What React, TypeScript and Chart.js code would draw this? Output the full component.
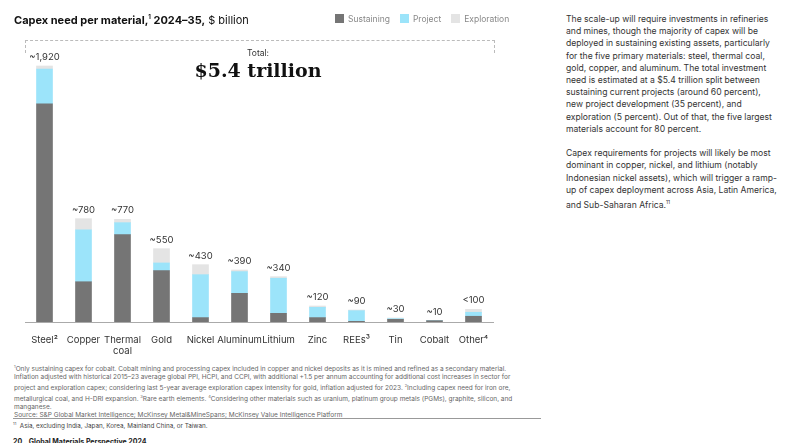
import { useEffect, useRef } from "react";
import { Chart, registerables } from "chart.js";

Chart.register(...registerables);

const categories = ["Steel²", "Copper", ["Thermal", "coal"], "Gold", "Nickel", "Aluminum", "Lithium", "Zinc", "REEs³", "Tin", "Cobalt", "Other⁴"];
const sustaining = [1637, 302, 655, 385, 33, 215, 65, 33, 5, 20, 10, 43];
const project = [260, 390, 90, 58, 322, 163, 263, 77, 80, 5, 0, 30];
const exploration = [23, 83, 25, 107, 75, 12, 12, 10, 5, 5, 0, 22];
const totalLabels = ["~1,920", "~780", "~770", "~550", "~430", "~390", "~340", "~120", "~90", "~30", "~10", "<100"];

const font = "Inter, 'Noto Sans', sans-serif";

const topLabels = {
  id: "topLabels",
  afterDatasetsDraw(chart: Chart) {
    const ctx = chart.ctx;
    const meta = chart.getDatasetMeta(2);
    const y = chart.scales.y;
    ctx.save();
    ctx.font = `9.5px ${font}`;
    ctx.fillStyle = "#333";
    ctx.textAlign = "center";
    ctx.textBaseline = "bottom";
    meta.data.forEach((bar: any, i: number) => {
      const total = sustaining[i] + project[i] + exploration[i];
      ctx.fillText(totalLabels[i], bar.x, y.getPixelForValue(total) - 4);
    });
    ctx.restore();
  },
};

function CapexChart() {
  const ref = useRef<HTMLCanvasElement | null>(null);
  const chartRef = useRef<Chart | null>(null);

  useEffect(() => {
    if (!ref.current) return;
    chartRef.current = new Chart(ref.current, {
      type: "bar",
      data: {
        labels: categories as any,
        datasets: [
          { label: "Sustaining", data: sustaining, backgroundColor: "#757575" },
          { label: "Project", data: project, backgroundColor: "#9ce4fa" },
          { label: "Exploration", data: exploration, backgroundColor: "#e4e4e4" },
        ],
      },
      options: {
        animation: false,
        responsive: false,
        layout: { padding: { top: 2, left: 25, right: 27, bottom: 0 } },
        datasets: { bar: { barThickness: 16 } },
        plugins: { legend: { display: false }, tooltip: { enabled: false } },
        scales: {
          x: {
            stacked: true,
            grid: { display: false },
            border: { display: true, color: "#aaa" },
            ticks: { color: "#333", font: { size: 9.5, family: font }, padding: 4, maxRotation: 0, autoSkip: false },
            afterFit: (s: any) => { s.height = 33; },
          },
          y: { stacked: true, display: false, min: 0, max: 2400 },
        },
      },
      plugins: [topLabels],
    });
    return () => { chartRef.current?.destroy(); };
  }, []);

  return <canvas ref={ref} width={520} height={355} style={{ position: "absolute", left: 0, top: 0 }} />;
}

const sw = (c: string) => (
  <span style={{ display: "inline-block", width: 9, height: 9, background: c, marginRight: 4, verticalAlign: -1 }} />
);

export default function App() {
  return (
    <div style={{ position: "fixed", inset: 0, background: "#fff", fontFamily: font, overflow: "hidden" }}>
      <CapexChart />
      <div style={{ position: "absolute", left: 14, top: 13, fontSize: 11, color: "#111" }}>
        <b>Capex need per material,<sup style={{ fontSize: 6 }}>1</sup> 2024–35,</b> $ billion
      </div>
      <div style={{ position: "absolute", left: 335, top: 14, fontSize: 8.5, color: "#888", whiteSpace: "nowrap" }}>
        {sw("#757575")}Sustaining<span style={{ marginLeft: 10 }} />{sw("#9ce4fa")}Project<span style={{ marginLeft: 10 }} />{sw("#e4e4e4")}Exploration
      </div>
      <div style={{ position: "absolute", left: 25, top: 40, width: 468, height: 12, borderTop: "1px dashed #bbb", borderLeft: "1px dashed #bbb", borderRight: "1px dashed #bbb" }} />
      <div style={{ position: "absolute", left: 158, top: 48, width: 200, textAlign: "center", fontSize: 8.5, color: "#333" }}>Total:</div>
      <div style={{ position: "absolute", left: 158, top: 59, width: 200, textAlign: "center", fontSize: 19, fontWeight: 700, fontFamily: "'DejaVu Serif', 'Liberation Serif', serif", color: "#111" }}>$5.4 trillion</div>
      <div style={{ position: "absolute", left: 14, top: 363, width: 500, fontSize: 6.5, lineHeight: "7.9px", color: "#666" }}>
        <sup style={{ fontSize: 4 }}>1</sup>Only sustaining capex for cobalt. Cobalt mining and processing capex included in copper and nickel deposits as it is mined and refined as a secondary material. Inflation adjusted with historical 2015–23 average global PPI, HCPI, and CCPI, with additional +1.5 per annum accounting for additional cost increases in sector for project and exploration capex; considering last 5-year average exploration capex intensity for gold, inflation adjusted for 2023. <sup style={{ fontSize: 4 }}>2</sup>Including capex need for iron ore, metallurgical coal, and H-DRI expansion. <sup style={{ fontSize: 4 }}>3</sup>Rare earth elements. <sup style={{ fontSize: 4 }}>4</sup>Considering other materials such as uranium, platinum group metals (PGMs), graphite, silicon, and manganese.
        <br />Source: S&amp;P Global Market Intelligence; McKinsey Metal&amp;MineSpans; McKinsey Value Intelligence Platform
      </div>
      <div style={{ position: "absolute", left: 13, top: 418, width: 528, borderTop: "1px solid #999" }} />
      <div style={{ position: "absolute", left: 13, top: 421, fontSize: 6.3, color: "#444" }}>
        <sup style={{ fontSize: 4 }}>11</sup>&nbsp; Asia, excluding India, Japan, Korea, Mainland China, or Taiwan.
      </div>
      <div style={{ position: "absolute", left: 13, top: 437, fontSize: 7, fontWeight: 700, color: "#222" }}>20&nbsp;&nbsp;&nbsp;&nbsp;Global Materials Perspective 2024</div>
      <div style={{ position: "absolute", left: 566, top: 13, width: 235, fontSize: 8.6, lineHeight: "12.2px", color: "#333" }}>
        The scale-up will require investments in refineries<br />and mines, though the majority of capex will be<br />deployed in sustaining existing assets, particularly<br />for the five primary materials: steel, thermal coal,<br />gold, copper, and aluminum. The total investment<br />need is estimated at a $5.4 trillion split between<br />sustaining current projects (around 60 percent),<br />new project development (35 percent), and<br />exploration (5 percent). Out of that, the five largest<br />materials account for 80 percent.
        <div style={{ height: 12.2 }} />
        Capex requirements for projects will likely be most<br />dominant in copper, nickel, and lithium (notably<br />Indonesian nickel assets), which will trigger a ramp-<br />up of capex deployment across Asia, Latin America,<br />and Sub-Saharan Africa.<sup style={{ fontSize: 5 }}>11</sup>
      </div>
    </div>
  );
}
